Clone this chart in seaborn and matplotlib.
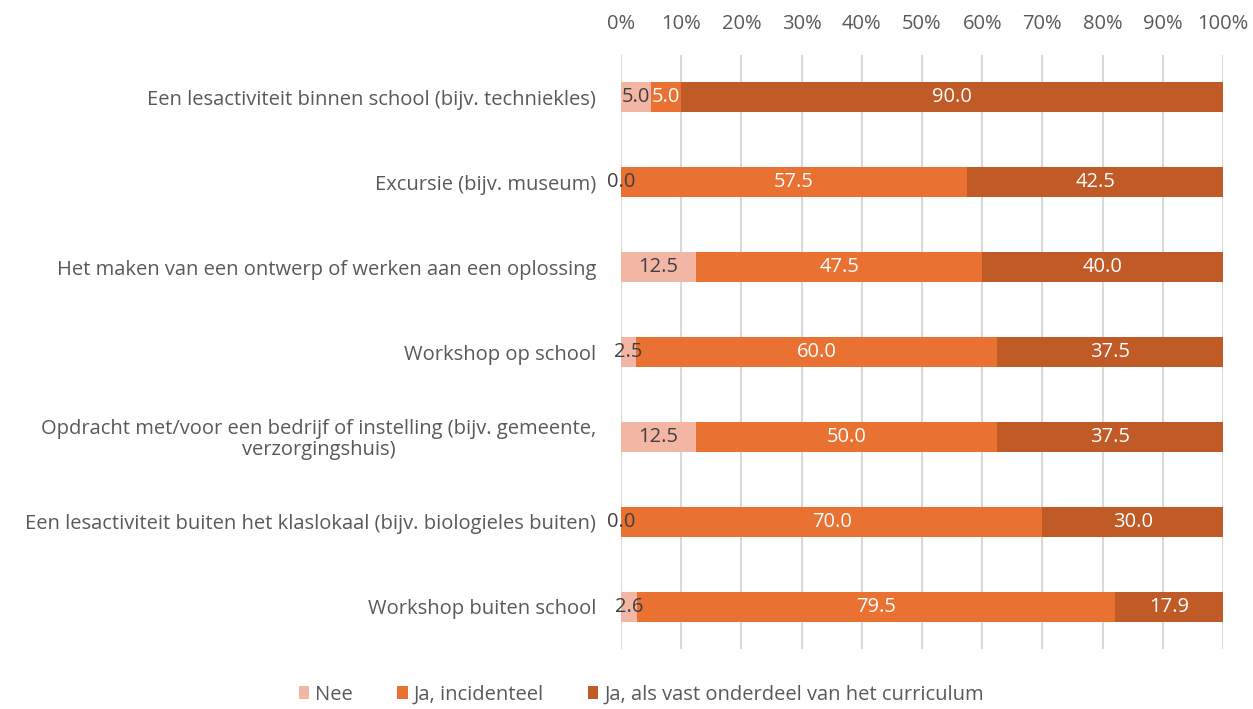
import numpy as np
import pandas as pd
import matplotlib
matplotlib.use("Agg")
import matplotlib.pyplot as plt
import seaborn as sns
from matplotlib.patches import Patch

categories = [
    "Een lesactiviteit binnen school (bijv. techniekles)",
    "Excursie (bijv. museum)",
    "Het maken van een ontwerp of werken aan een oplossing",
    "Workshop op school",
    "Opdracht met/voor een bedrijf of instelling (bijv. gemeente,\nverzorgingshuis)",
    "Een lesactiviteit buiten het klaslokaal (bijv. biologieles buiten)",
    "Workshop buiten school",
]
nee = [5.0, 0.0, 12.5, 2.5, 12.5, 0.0, 2.6]
incidenteel = [5.0, 57.5, 47.5, 60.0, 50.0, 70.0, 79.5]
curriculum = [90.0, 42.5, 40.0, 37.5, 37.5, 30.0, 17.9]
series_names = ["Nee", "Ja, incidenteel", "Ja, als vast onderdeel van het curriculum"]
colors = ["#F4B6A4", "#E97132", "#C05A27"]

sns.set_theme(style="white")
plt.rcParams["font.family"] = ["Open Sans", "DejaVu Sans"]
fs = 14.5

df = pd.DataFrame({"cat": categories, "nee": nee, "inc": incidenteel, "cur": curriculum})
df["c1"] = df["nee"]
df["c2"] = df["nee"] + df["inc"]
df["c3"] = df["c2"] + df["cur"]

fig = plt.figure(figsize=(12.53, 7.09), dpi=100)
ax = fig.add_axes([0.4956, 0.084, 0.4805, 0.839])

# stacked bars: draw totals first, then overlay smaller cumulative sums
for col, c in zip(["c3", "c2", "c1"], colors[::-1]):
    sns.barplot(data=df, x=col, y="cat", color=c, orient="h", width=0.35,
                saturation=1, linewidth=0, ax=ax, zorder=3)

ax.set_xlim(0, 100)
ax.set_ylim(len(categories) - 0.5, -0.5)
ax.set_xticks(np.arange(0, 101, 10))
ax.set_xticklabels([f"{t}%" for t in range(0, 101, 10)])
ax.xaxis.tick_top()
ax.tick_params(axis="x", length=0, pad=15, labelsize=fs, colors="#595959")
ax.tick_params(axis="y", length=0, pad=18, labelsize=fs, colors="#595959")
for t in ax.get_yticklabels():
    t.set_multialignment("center")
    t.set_linespacing(1.05)
ax.set_xlabel("")
ax.set_ylabel("")
ax.grid(axis="x", color="#D9D9D9", linewidth=1.5, zorder=0)
for s in ax.spines.values():
    s.set_visible(False)

# value labels, centred on each segment
for i in range(len(categories)):
    starts = [0, df["c1"][i], df["c2"][i]]
    vals = [nee[i], incidenteel[i], curriculum[i]]
    for j, (st, v) in enumerate(zip(starts, vals)):
        tc = "#404040" if j == 0 else "white"
        ax.text(st + v / 2, i, f"{v:.1f}", ha="center", va="center",
                fontsize=fs, color=tc, zorder=5)

handles = [Patch(facecolor=c, edgecolor="none") for c in colors]
fig.legend(handles, series_names, loc="center", bbox_to_anchor=(0.512, 0.02),
           ncol=3, frameon=False, fontsize=fs, handlelength=0.5, handleheight=0.6,
           handletextpad=0.3, columnspacing=2.2, labelcolor="#595959",
           borderpad=0.1)

fig.savefig("out.png", dpi=100)
